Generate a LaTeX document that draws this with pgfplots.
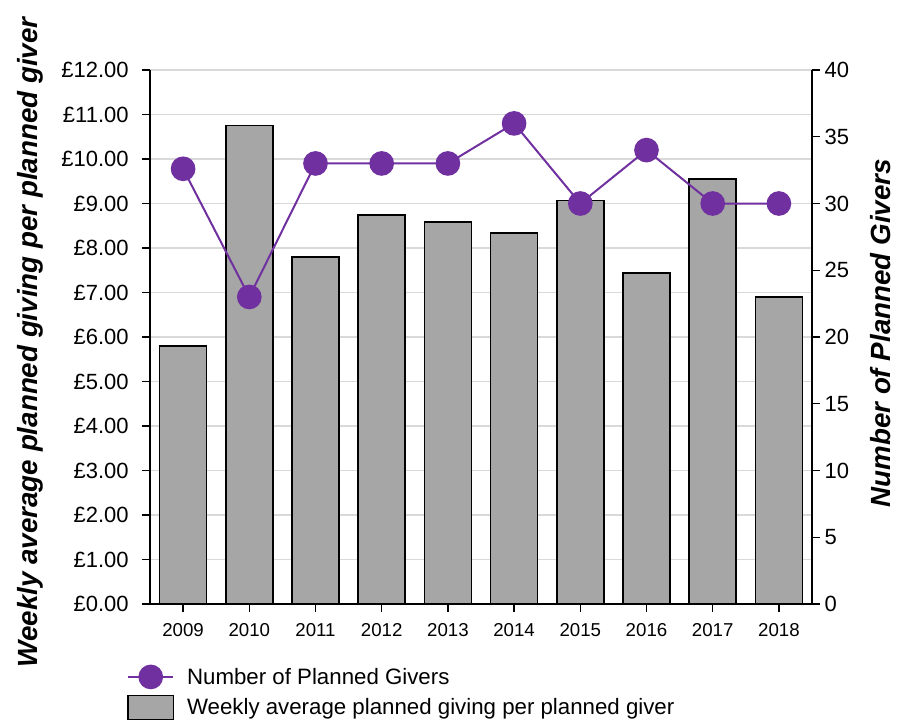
\documentclass[border=0pt]{standalone}
\usepackage{pgfplots}
\pgfplotsset{compat=1.18}
\usepackage{pgfplotstable}
\usepackage{fontspec}
\setmainfont{Liberation Sans}

\definecolor{barfill}{HTML}{A6A6A6}
\definecolor{givers}{HTML}{7030A0}
\definecolor{gridc}{HTML}{D9D9D9}

% idx: category position, amount in pounds, givers = number of planned givers
\pgfplotstableread{
idx year amount givers
0 2009 5.80 32.6
1 2010 10.75 23
2 2011 7.80 33
3 2012 8.74 33
4 2013 8.58 33
5 2014 8.34 36
6 2015 9.07 30
7 2016 7.44 34
8 2017 9.55 30
9 2018 6.90 30
}\datatable

\newcommand{\tickfont}{\fontsize{16.5}{19}\selectfont}
\newcommand{\titlefont}{\bfseries\itshape\fontsize{20.8}{24}\selectfont}

\pgfplotsset{
  common/.style={
    scale only axis, width=496.5pt, height=400.5pt,
    xmin=-0.5, xmax=9.5,
    /pgf/number format/assume math mode=true,
    tick align=outside, major tick length=6pt,
    tick style={black, line width=1pt},
    axis line style={black, line width=1pt},
  }
}

\begin{document}
\begin{tikzpicture}
\begin{axis}[
  common, name=ax,
  ymin=0, ymax=12,
  axis x line*=bottom, axis y line*=left,
  xtick={0,...,9},
  xticklabels={2009,2010,2011,2012,2013,2014,2015,2016,2017,2018},
  xticklabel style={font=\fontsize{14}{17}\selectfont, yshift=-5pt},
  ytick={0,...,12},
  yticklabels={£0.00,£1.00,£2.00,£3.00,£4.00,£5.00,£6.00,£7.00,£8.00,£9.00,£10.00,£11.00,£12.00},
  yticklabel style={font=\tickfont, xshift=-6.5pt},
  ymajorgrids, grid style={gridc, line width=1.2pt},
  ylabel={Weekly average planned giving per planned giver},
  every axis y label/.style={at={(axis description cs:-0.181,0.49)}, rotate=90, anchor=center, font=\titlefont},
]
\addplot[ybar, bar width=35.25pt, fill=barfill, draw=black, line width=1.3pt]
  table[x=idx, y=amount]{\datatable};
\end{axis}

\begin{axis}[
  common,
  ymin=0, ymax=40,
  axis x line=none, axis y line*=right,
  ytick={0,5,...,40},
  yticklabel style={font=\tickfont},
  ylabel={Number of Planned Givers},
  every axis y label/.style={at={(axis description cs:1.103,0.507)}, rotate=90, anchor=center, font=\titlefont},
  legend cell align=left,
  legend style={at={(axis description cs:-0.035,-0.113)}, anchor=north west,
    draw=none, fill=none, inner sep=0pt, row sep=4pt,
    font=\fontsize{16.7}{20}\selectfont},
]
\addplot[givers, line width=1.5pt, mark=*, mark size=8.5pt,
  mark options={fill=givers, draw=givers},
  legend image code/.code={
    \draw[givers, line width=1.5pt] (0pt,0pt) -- (34pt,0pt);
    \fill[givers] (17pt,0pt) circle (8.5pt);
    \path (41.5pt,0pt);}]
  table[x=idx, y=givers]{\datatable};
\addlegendentry{Number of Planned Givers}
\addlegendimage{legend image code/.code={
    \draw[draw=black, fill=barfill, line width=1.3pt] (0pt,-9pt) rectangle (34pt,9pt);
    \path (41.5pt,0pt);}}
\addlegendentry{Weekly average planned giving per planned giver}
\end{axis}

\pgfresetboundingbox
\path ([shift={(-112.5pt,-87.75pt)}]ax.south west) rectangle ([shift={(560.25pt,453pt)}]ax.south west);
\end{tikzpicture}
\end{document}
